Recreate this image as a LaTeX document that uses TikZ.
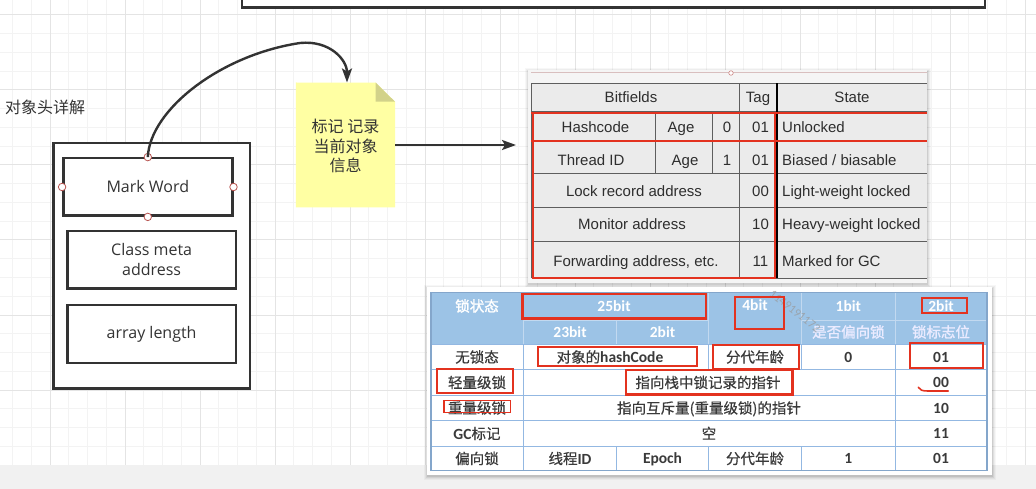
\documentclass[tikz,border=0pt]{standalone}
\usepackage{fontspec}
\setmainfont{Open Sans}
\newfontfamily\cjkf[FakeBold=0.5]{Noto Sans CJK SC}
\newfontfamily\cjkn{Noto Sans CJK SC}
\newfontfamily\cjkbf[FakeBold=1.5]{Noto Sans CJK SC}
\newfontfamily\arialf{Liberation Sans}
\newfontfamily\calf{Carlito}
\usetikzlibrary{arrows.meta}
\definecolor{ink}{HTML}{333333}
\definecolor{gridminor}{HTML}{F3F3F3}
\definecolor{gridmajor}{HTML}{E4E4E4}
\definecolor{bandgray}{HTML}{F1F1F1}
\definecolor{portred}{HTML}{B85450}
\definecolor{notefill}{HTML}{FFFFA3}
\definecolor{notefold}{HTML}{D2D28A}
\definecolor{markred}{HTML}{E3321F}
\definecolor{shotbg}{HTML}{F5F5F5}
\definecolor{cellbg}{HTML}{EBEBEB}
\definecolor{tline}{HTML}{5E5E5E}
\definecolor{ttext}{HTML}{2E2E2E}
\definecolor{hdrblue}{HTML}{9CC3E6}
\definecolor{hdrline}{HTML}{C2D9F0}
\definecolor{bodyline}{HTML}{93B8E2}
\definecolor{bodytext}{HTML}{3A3A3A}
\tikzset{
  boxshape/.style={draw=ink, line width=2.4pt, fill=white, inner sep=0pt},
  port/.style={circle, draw=portred, fill=white, line width=0.8pt, minimum size=7.5pt, inner sep=0pt},
  conn/.style={draw=ink, line width=2.4pt, -{Stealth[length=14pt,width=10pt,inset=3pt]}},
  gmin/.style={draw=gridminor, line width=1pt},
  gmaj/.style={draw=gridmajor, line width=1pt},
  lbl/.style={font=\fontsize{16}{20}\selectfont, text=ink, align=center, inner sep=0pt},
  ut/.style={font=\arialf\fontsize{15}{18}\selectfont, text=ttext, inner sep=0pt, text height=11pt, text depth=0.5pt},
  tl/.style={draw=tline, line width=1pt},
  redbox/.style={draw=markred, line width=2.2pt},
  redthin/.style={draw=markred, line width=1.6pt},
  lt/.style={font=\cjkf\fontsize{14.5}{17}\selectfont, text=bodytext, inner sep=0pt, text height=12.5pt, text depth=1.5pt},
  lnum/.style={font=\calf\bfseries\fontsize{15.5}{17}\selectfont, text=bodytext, inner sep=0pt, text height=10pt, text depth=0pt},
  ht/.style={font=\cjkbf\fontsize{14.5}{17}\selectfont, text=white, inner sep=0pt, text height=12.5pt, text depth=1.5pt},
  hnum/.style={font=\calf\bfseries\fontsize{15.5}{17}\selectfont, text=white, inner sep=0pt, text height=10pt, text depth=0pt},
  hl/.style={draw=hdrline, line width=1pt},
  bl/.style={draw=bodyline, line width=1pt}
}
\begin{document}
\begin{tikzpicture}[x=1pt,y=-1pt]
\useasboundingbox (0,0) rectangle (1036,489);
% background grid
\fill[white] (0,0) rectangle (1036,465);
\foreach \i in {0,...,54} \draw[gmin] ({12.5+18.75*\i},0) -- ({12.5+18.75*\i},465);
\foreach \j in {0,...,24} \draw[gmin] (0,{15+18.75*\j}) -- (1036,{15+18.75*\j});
\foreach \i in {0,...,13} \draw[gmaj] ({50+75*\i},0) -- ({50+75*\i},465);
\foreach \j in {0,...,5} \draw[gmaj] (0,{15+75*\j}) -- (1036,{15+75*\j});
\fill[bandgray] (0,465) rectangle (1036,489);

% top box (cut off)
\node[boxshape, minimum width=743pt, minimum height=24pt] (toprect) at (613.5,-4.5) {};

% title
\node[font=\cjkn\fontsize{16}{19}\selectfont, text=ink, anchor=west, inner sep=0pt] (title) at (5,107) {对象头详解};

% object header
\node[boxshape, minimum width=196.7pt, minimum height=245pt] (obj) at (151.65,265.8) {};
\node[boxshape, lbl, minimum width=169pt, minimum height=57.4pt] (mw) at (147.8,187) {Mark Word};
\node[boxshape, lbl, minimum width=168.7pt, minimum height=57.3pt] (cma) at (151.65,259.65) {Class meta\\[-0.5pt]address};
\node[boxshape, lbl, minimum width=168.7pt, minimum height=57.7pt] (alen) at (151.65,333.85) {array length};
\node[port] (pn) at (mw.north) {};
\node[port] (ps) at (mw.south) {};
\node[port] (pw) at (mw.west) {};
\node[port] (pe) at (mw.east) {};

% note
\node[minimum width=99pt, minimum height=124.6pt, inner sep=0pt] (note) at (345.5,145) {};
\fill[notefill] (note.north west) -- (375.7,82.7) -- (395,101.7) -- (note.south east) -- (note.south west) -- cycle;
\fill[notefold] (375.7,82.7) -- (375.7,101.7) -- (395,101.7) -- cycle;
\node[font=\cjkn\fontsize{16}{19.5}\selectfont, text=ink, align=center, inner sep=0pt] (notetext) at (345.5,146) {标记 记录\\当前对象\\信息};

% curved connector
\draw[conn] (pn.center) .. controls (150,110) and (220,55) .. (300,43) .. controls (330,40) and (347,60) .. ([xshift=1.5pt]note.north);
% straight connector
\coordinate (tbl) at (516,145);
\draw[conn] (note.east) -- (tbl);

% ---------- upper screenshot ----------
\foreach \d/\o in {4/0.03,3/0.04,2/0.06,1/0.08} \fill[black,opacity=\o] ({528-\d+1},{70-\d+2}) rectangle ({926.7+\d},{282.7+\d+1});
\fill[shotbg] (528,70) rectangle (926.7,282.7);
\fill[cellbg] (531.7,83.3) rectangle (926.7,278.3);
\draw[draw=red!25!gray!40, line width=0.8pt] (531,72.8) -- (926.7,72.8);
\node[circle, draw=portred!70, fill=white, line width=0.6pt, minimum size=4.5pt, inner sep=0pt] (topdot) at (731,73) {};
\foreach \yy in {83.3,111.7,141,173.3,207.7,241.7,278.3} \draw[tl] (531.7,\yy) -- (926.7,\yy);
\draw[tl] (531.7,83.3) -- (531.7,278.3);
\draw[tl] (655,111.7) -- (655,173.3);
\draw[tl] (712.7,111.7) -- (712.7,173.3);
\draw[tl] (739.3,83.3) -- (739.3,278.3);
\draw[draw=black, line width=2pt] (776.7,83.3) -- (776.7,278.3);
% texts
\node[ut] (hbf) at (631,97.5) {Bitfields};
\node[ut] (htag) at (758,97.5) {Tag};
\node[ut] (hst) at (852,97.5) {State};
\node[ut] (r1a) at (595.5,127) {Hashcode};
\node[ut] (r1b) at (681,127) {Age};
\node[ut] (r1c) at (727,127) {0};
\node[ut] (r1d) at (760.5,127) {01};
\node[ut, anchor=west] (r1e) at (782,127) {Unlocked};
\node[ut] (r2a) at (591,160) {Thread ID};
\node[ut] (r2b) at (685,160) {Age};
\node[ut] (r2c) at (727,160) {1};
\node[ut] (r2d) at (760.5,160) {01};
\node[ut, anchor=west] (r2e) at (782,160) {Biased / biasable};
\node[ut] (r3a) at (634,191) {Lock record address};
\node[ut] (r3d) at (760.5,191) {00};
\node[ut, anchor=west] (r3e) at (782,191) {Light-weight locked};
\node[ut] (r4a) at (632,224.5) {Monitor address};
\node[ut] (r4d) at (760.5,224.5) {10};
\node[ut, anchor=west] (r4e) at (782,224.5) {Heavy-weight locked};
\node[ut] (r5a) at (636,261) {Forwarding address, etc.};
\node[ut] (r5d) at (760.5,261) {11};
\node[ut, anchor=west] (r5e) at (782,261) {Marked for GC};
% red marks
\draw[redbox] (533,113.3) rectangle (775,278);
\draw[redbox] (531,113.3) -- (926.7,113.3);
\draw[redbox] (531,141) -- (926.7,141);

% ---------- lower screenshot ----------
\foreach \d/\o in {4/0.03,3/0.04,2/0.06,1/0.08} \fill[black,opacity=\o] ({427.4-\d+1},{287.3-\d+2}) rectangle ({992+\d},{475+\d+1});
\fill[white] (427.4,287.3) rectangle (992,475);
\fill[hdrblue] (431,292.7) rectangle (987,344);
\fill[white] (431,344) rectangle (987,470.7);
% header lines
\draw[hl] (523.5,292.7) -- (523.5,344);
\draw[hl] (708.5,292.7) -- (708.5,344);
\draw[hl] (801.7,292.7) -- (801.7,344);
\draw[hl] (895,292.7) -- (895,344);
\draw[hl] (616.5,320) -- (616.5,344);
\draw[hl] (523.5,320) -- (708.5,320);
\draw[hl] (801.7,320) -- (987,320);
% body lines
\foreach \yy in {344,369.3,395,420.7,446} \draw[bl] (431,\yy) -- (987,\yy);
\draw[bl] (523.5,344) -- (523.5,470.7);
\draw[bl] (895,344) -- (895,470.7);
\draw[bl] (708.5,344) -- (708.5,369.3);
\draw[bl] (801.7,344) -- (801.7,369.3);
\draw[bl] (616.5,446) -- (616.5,470.7);
\draw[bl] (708.5,446) -- (708.5,470.7);
\draw[bl] (801.7,446) -- (801.7,470.7);
\draw[draw=bodyline!90!black, line width=1.3pt] (431,292.7) rectangle (987,470.7);
% header text
\node[ht] (h0) at (477,306) {锁状态};
\node[hnum] (h1) at (614,306) {25bit};
\node[hnum] (h11) at (570,332) {23bit};
\node[hnum] (h12) at (662.5,332) {2bit};
\node[hnum] (h3) at (755,305) {4bit};
\node[hnum] (h4) at (848.4,306) {1bit};
\node[hnum] (h5) at (941,306) {2bit};
\node[ht, text=white!92!blue] (h42) at (848.4,332) {是否偏向锁};
\node[ht, text=white!92!blue] (h52) at (941,332) {锁标志位};
% body text
\node[lt] (b10) at (477,357) {无锁态};
\node[lt] (b11) at (610,357) {对象的{\calf\bfseries\fontsize{15.5}{17}\selectfont hashCode}};
\node[lt] (b13) at (755,357) {分代年龄};
\node[lnum] (b14) at (848.4,357) {0};
\node[lnum] (b15) at (941,357) {01};
\node[lt] (b20) at (477,382.5) {轻量级锁};
\node[lt] (b21) at (708,382.5) {指向栈中锁记录的指针};
\node[lnum] (b25) at (941,382.5) {00};
\node[lt] (b30) at (477,408) {重量级锁};
\node[lt] (b31) at (709,408) {指向互斥量(重量级锁)的指针};
\node[lnum] (b35) at (941,408) {10};
\node[lt] (b40) at (477,433.5) {{\calf\bfseries\fontsize{15.5}{17}\selectfont GC}标记};
\node[lt] (b41) at (709,433.5) {空};
\node[lnum] (b45) at (941,433.5) {11};
\node[lt] (b50) at (477,458.5) {偏向锁};
\node[lt] (b51) at (570,458.5) {线程{\calf\bfseries\fontsize{15.5}{17}\selectfont ID}};
\node[lnum] (b52) at (662.5,458.5) {Epoch};
\node[lt] (b53) at (755,458.5) {分代年龄};
\node[lnum] (b54) at (848.4,458.5) {1};
\node[lnum] (b55) at (941,458.5) {01};
% watermark
\node[font=\calf\fontsize{12}{14}\selectfont, text=gray!80, rotate=-38, inner sep=0pt, opacity=0.7] (wm) at (795,311) {1149191172};
% red marks
\draw[redbox] (522.5,294) rectangle (705.7,318.5);
\draw[redbox] (735,297.3) rectangle (784,329.3);
\draw[redbox] (921.7,298.3) rectangle (967.3,312.7);
\draw[redbox] (538.3,347.3) rectangle (697.3,366);
\draw[redbox] (712.7,345) rectangle (799,369.3);
\draw[redbox] (910,342.7) rectangle (983.3,368.3);
\draw[redbox] (436.7,369.3) rectangle (513.3,392.7);
\draw[redbox] (625.7,370) rectangle (792.5,394.5);
\draw[redthin] (444,400.5) rectangle (510.6,412.5);
\draw[redthin, line cap=round] (918.3,387.3) .. controls (920,390) and (922,391) .. (928,391) -- (948.3,391);
\end{tikzpicture}
\end{document}
